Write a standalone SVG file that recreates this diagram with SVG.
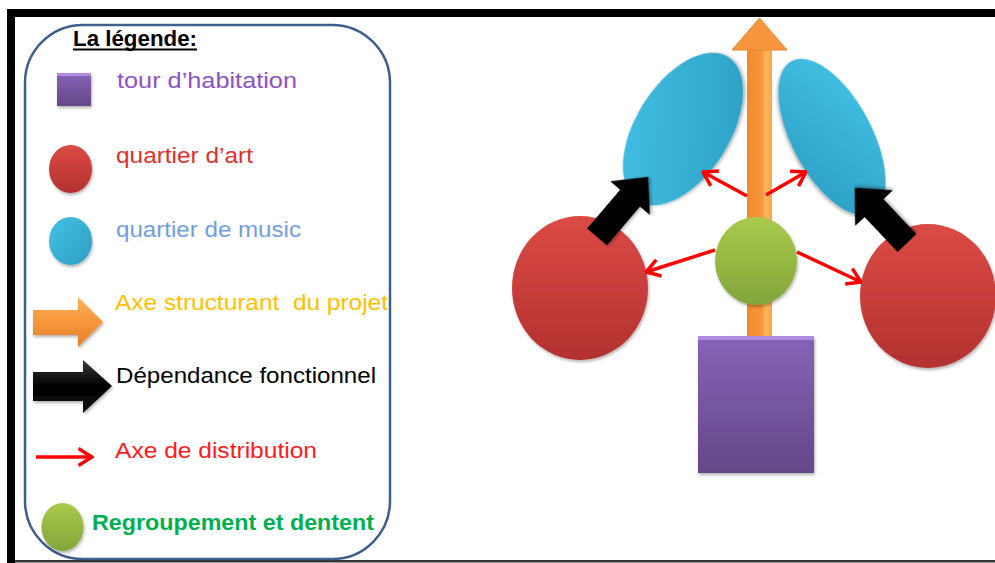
<svg xmlns="http://www.w3.org/2000/svg" width="995" height="563" viewBox="0 0 995 563">
<style>
.t{font-family:"Liberation Sans",Arial,sans-serif;font-size:22px}
.b{font-weight:bold}
.red{stroke:#ff0000;stroke-width:3.5;fill:none}
</style>
<defs>
<linearGradient id="gRed" x1="0" y1="0" x2="0" y2="1"><stop offset="0" stop-color="#dc4a45"/><stop offset="1" stop-color="#b3312f"/></linearGradient>
<linearGradient id="gBlue" x1="0" y1="0" x2="1" y2="1"><stop offset="0" stop-color="#45c2e6"/><stop offset="1" stop-color="#2a9dc2"/></linearGradient>
<linearGradient id="gGreen" x1="0" y1="0" x2="0" y2="1"><stop offset="0" stop-color="#a9ca4c"/><stop offset="1" stop-color="#84a53a"/></linearGradient>
<linearGradient id="gPurple" x1="0" y1="0" x2="0" y2="1"><stop offset="0" stop-color="#8763b6"/><stop offset="1" stop-color="#644789"/></linearGradient>
<linearGradient id="gOrangeV" x1="0" y1="0" x2="1" y2="0"><stop offset="0" stop-color="#f28a2c"/><stop offset="0.6" stop-color="#f7963c"/><stop offset="0.75" stop-color="#fbb85e"/><stop offset="1" stop-color="#f9a548"/></linearGradient>
<linearGradient id="gOrangeH" x1="0" y1="0" x2="0" y2="1"><stop offset="0" stop-color="#fbb25a"/><stop offset="0.5" stop-color="#f7963c"/><stop offset="1" stop-color="#e5802a"/></linearGradient>
<linearGradient id="gBlack" x1="0" y1="0" x2="0" y2="1"><stop offset="0" stop-color="#3a3a3a"/><stop offset="0.5" stop-color="#000"/><stop offset="1" stop-color="#111"/></linearGradient>
<filter id="sh" x="-20%" y="-20%" width="140%" height="140%"><feDropShadow dx="1" dy="2" stdDeviation="1.5" flood-color="#000" flood-opacity="0.3"/></filter>
<marker id="ah" viewBox="0 0 16 20" refX="14.5" refY="10" markerWidth="16" markerHeight="20" markerUnits="userSpaceOnUse" orient="auto"><path d="M1,1.5 L14.5,10 L1,18.5" stroke="#ff0000" stroke-width="3.5" fill="none"/></marker>
</defs>
<rect width="995" height="563" fill="#fff"/>
<!-- frame -->
<g id="frame">
<rect x="7" y="9" width="988" height="8" fill="#000"/>
<rect x="7" y="9" width="8" height="554" fill="#000"/>
<rect x="15" y="560" width="980" height="2.5" fill="#333"/>
</g>
<!-- legend -->
<g id="legend">
<rect x="25" y="25" width="365" height="534" rx="58" fill="#fff" stroke="#3e5f8c" stroke-width="2.5"/>
<g id="legend-title">
<text class="t b" x="73" y="46" font-size="21" textLength="124" lengthAdjust="spacingAndGlyphs">La légende:</text>
<rect x="73" y="48.5" width="124" height="2" fill="#000"/>
</g>
<g id="legend-tower">
<rect x="57" y="73" width="34" height="33" fill="url(#gPurple)" filter="url(#sh)"/>
<rect x="57" y="73" width="34" height="3" fill="#b08be0"/>
<text class="t" x="117" y="88" fill="#8e52c6" textLength="180" lengthAdjust="spacingAndGlyphs">tour d’habitation</text>
</g>
<g id="legend-art">
<ellipse cx="70.5" cy="169" rx="21.5" ry="24" fill="url(#gRed)" filter="url(#sh)"/>
<text class="t" x="116" y="163" fill="#e0302c" textLength="137" lengthAdjust="spacingAndGlyphs">quartier d’art</text>
</g>
<g id="legend-music">
<ellipse cx="70.5" cy="241" rx="21.5" ry="24" fill="url(#gBlue)" filter="url(#sh)"/>
<text class="t" x="116" y="237" fill="#6f9fe0" textLength="185" lengthAdjust="spacingAndGlyphs">quartier de music</text>
</g>
<g id="legend-axis">
<polygon points="33,310 78,310 78,297 103,322 78,347 78,335 33,335" fill="url(#gOrangeH)" filter="url(#sh)"/>
<text class="t" x="115" y="310" fill="#ffc000" xml:space="preserve" textLength="273" lengthAdjust="spacingAndGlyphs">Axe structurant  du projet</text>
</g>
<g id="legend-dep">
<polygon points="33,372 83,372 83,360 112,386 83,413 83,401 33,401" fill="url(#gBlack)" filter="url(#sh)"/>
<text class="t" x="116" y="383" fill="#000" textLength="260" lengthAdjust="spacingAndGlyphs">Dépendance fonctionnel</text>
</g>
<g id="legend-dist">
<line class="red" x1="36" y1="457" x2="92" y2="457" marker-end="url(#ah)"/>
<text class="t" x="115" y="458" fill="#ff1a1a" textLength="202" lengthAdjust="spacingAndGlyphs">Axe de distribution</text>
</g>
<g id="legend-hub">
<ellipse cx="62.5" cy="527" rx="21" ry="24" fill="url(#gGreen)" filter="url(#sh)"/>
<text class="t b" x="92" y="530" font-size="21" fill="#00b050" textLength="282" lengthAdjust="spacingAndGlyphs">Regroupement et dentent</text>
</g>
</g>
<!-- structuring axis -->
<g id="axis">
<rect x="747" y="48" width="25" height="290" fill="url(#gOrangeV)"/>
<polygon points="732,50 759.5,18 787,50" fill="#f7963c" stroke="#e8852c" stroke-width="1"/>
</g>
<!-- nodes -->
<g id="music-left"><ellipse cx="683" cy="129" rx="85" ry="47" transform="rotate(-58 683 129)" fill="url(#gBlue)" filter="url(#sh)"/></g>
<g id="music-right"><ellipse cx="832" cy="137" rx="86" ry="40" transform="rotate(62 832 137)" fill="url(#gBlue)" filter="url(#sh)"/></g>
<g id="art-left"><ellipse cx="580" cy="288" rx="68" ry="72" fill="url(#gRed)" filter="url(#sh)"/></g>
<g id="art-right"><ellipse cx="928" cy="296" rx="68" ry="72" fill="url(#gRed)" filter="url(#sh)"/></g>
<g id="hub"><ellipse cx="756" cy="261" rx="41" ry="44" fill="url(#gGreen)" filter="url(#sh)"/></g>
<g id="tower">
<rect x="698" y="336" width="116" height="137" fill="url(#gPurple)" filter="url(#sh)"/>
<rect x="698" y="336" width="116" height="4" fill="#b08be0"/>
</g>
<!-- connectors -->
<g id="connectors">
<line class="red" x1="747" y1="196" x2="703" y2="172" marker-end="url(#ah)"/>
<line class="red" x1="766" y1="195" x2="806" y2="172" marker-end="url(#ah)"/>
<line class="red" x1="715" y1="250" x2="646" y2="272" marker-end="url(#ah)"/>
<line class="red" x1="797" y1="252" x2="861" y2="282" marker-end="url(#ah)"/>
<polygon points="0,-13 51,-13 51,-26 79,0 51,26 51,13 0,13" transform="translate(597 237) rotate(-49.6)" fill="#050505" filter="url(#sh)"/>
<polygon points="0,-13 48,-13 48,-26 76,0 48,26 48,13 0,13" transform="translate(907 243) rotate(-133.4)" fill="#050505" filter="url(#sh)"/>
</g>
</svg>
